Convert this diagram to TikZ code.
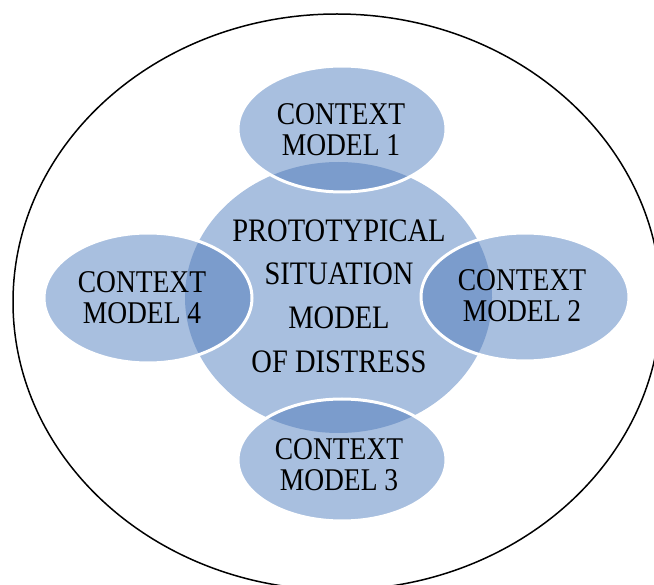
\documentclass[tikz,border=0pt]{standalone}
\usepackage{fontspec}
\setmainfont{Liberation Serif}
\definecolor{bluelight}{RGB}{168,191,223}
\definecolor{bluedark}{RGB}{123,156,204}
\newcommand{\ctxtext}[1]{\scalebox{1}[1.15]{\fontsize{27.5}{27}\selectfont\begin{tabular}{@{}c@{}}#1\end{tabular}}}
\newcommand{\maintext}[1]{\scalebox{1}[1.15]{\fontsize{28.5}{38}\selectfont\begin{tabular}{@{}c@{}}#1\end{tabular}}}
\begin{document}
\begin{tikzpicture}[x=1pt,y=-1pt,
  ctxfill/.style={fill=bluelight},
  ctxrim/.style={draw=white,line width=3pt},
  label/.style={inner sep=0pt,text=black}]
\useasboundingbox (0,0) rectangle (654,585);
\clip (0,0) rectangle (654,585);

% centres of the shapes
\coordinate (cm) at (338.5,297.5);
\coordinate (c1) at (342,129);
\coordinate (c2) at (525,297);
\coordinate (c3) at (342,460);
\coordinate (c4) at (148,298);

% outer boundary
\draw[line width=1.5pt] (337,302) ellipse[x radius=324, y radius=288];

% central shape
\def\centreshape{(cm) ellipse[x radius=153.5, y radius=135.5]}
\fill[bluelight] \centreshape;

% the four context ellipses, darker where they cover the centre
\foreach \p/\ry in {c1/63,c2/64,c3/61,c4/65}{
  \fill[ctxfill] (\p) ellipse[x radius=104, y radius=\ry];
  \begin{scope}
    \clip (\p) ellipse[x radius=104, y radius=\ry];
    \fill[bluedark] \centreshape;
  \end{scope}
  \draw[ctxrim] (\p) ellipse[x radius=104, y radius=\ry];
}

% texts
\node[label] (tm) at (339,298) {\maintext{PROTOTYPICAL\\SITUATION\\MODEL\\OF DISTRESS}};
\node[label] (t1) at (341,133.5) {\ctxtext{CONTEXT\\MODEL 1}};
\node[label] (t2) at (522,300) {\ctxtext{CONTEXT\\MODEL 2}};
\node[label] (t3) at (339,469) {\ctxtext{CONTEXT\\MODEL 3}};
\node[label] (t4) at (142,301.5) {\ctxtext{CONTEXT\\MODEL 4}};
\end{tikzpicture}
\end{document}
